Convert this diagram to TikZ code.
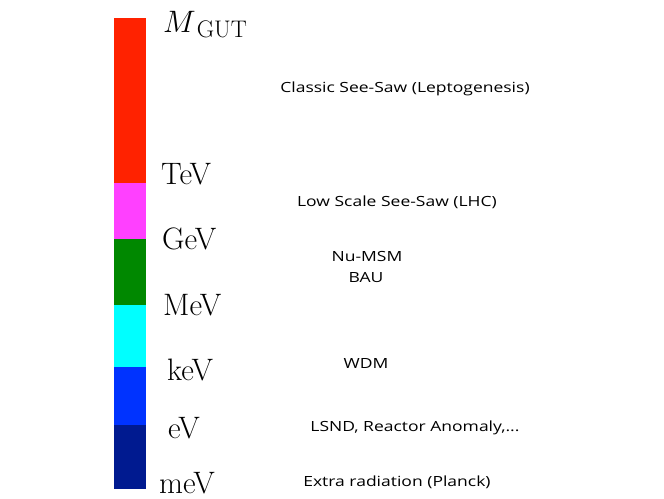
\documentclass[tikz,border=0pt]{standalone}
\usepackage{fix-cm}
\usepackage{fontspec}
\newfontfamily\handfont[FakeStretch=1.25]{Open Sans}
\definecolor{cred}{HTML}{FF2200}
\definecolor{cmag}{HTML}{FF40FF}
\definecolor{cgreen}{HTML}{008800}
\definecolor{ccyan}{HTML}{00FFFF}
\definecolor{cblue}{HTML}{0033FF}
\definecolor{cdblue}{HTML}{001A90}
\begin{document}
\begin{tikzpicture}[x=1pt,y=-1pt,
  scalelbl/.style={anchor=base west,inner sep=0pt,font=\fontsize{31}{31}\selectfont},
  physlbl/.style={inner sep=0pt,font=\handfont\fontsize{14}{14}\selectfont}]
\useasboundingbox (0,0) rectangle (664,498);
\fill[cred]   (114,18)  rectangle (146,183);
\fill[cmag]   (114,183) rectangle (146,239);
\fill[cgreen] (114,239) rectangle (146,305);
\fill[ccyan]  (114,305) rectangle (146,367);
\fill[cblue]  (114,367) rectangle (146,425);
\fill[cdblue] (114,425) rectangle (146,489);
\node[scalelbl] (gut) at (163,32) {$M$\kern1pt\raisebox{-5pt}{\fontsize{24}{24}\selectfont GUT}};
\node[scalelbl] (tev) at (161,184) {TeV};
\node[scalelbl] (gev) at (162,249) {GeV};
\node[scalelbl] (mev) at (163,315) {MeV};
\node[scalelbl] (kev) at (167,380) {keV};
\node[scalelbl] (ev) at (168,438) {eV};
\node[scalelbl] (mmev) at (159,493) {meV};
\node[physlbl] (css) at (405,89) {Classic See-Saw (Leptogenesis)};
\node[physlbl] (lss) at (397,202) {Low Scale See-Saw (LHC)};
\node[physlbl] (numsm) at (367,256) {Nu-MSM};
\node[physlbl] (bau) at (366,278) {BAU};
\node[physlbl] (wdm) at (366,363) {WDM};
\node[physlbl] (lsnd) at (415,428) {LSND, Reactor Anomaly,...};
\node[physlbl] (extra) at (397,482) {Extra radiation (Planck)};
\end{tikzpicture}
\end{document}
